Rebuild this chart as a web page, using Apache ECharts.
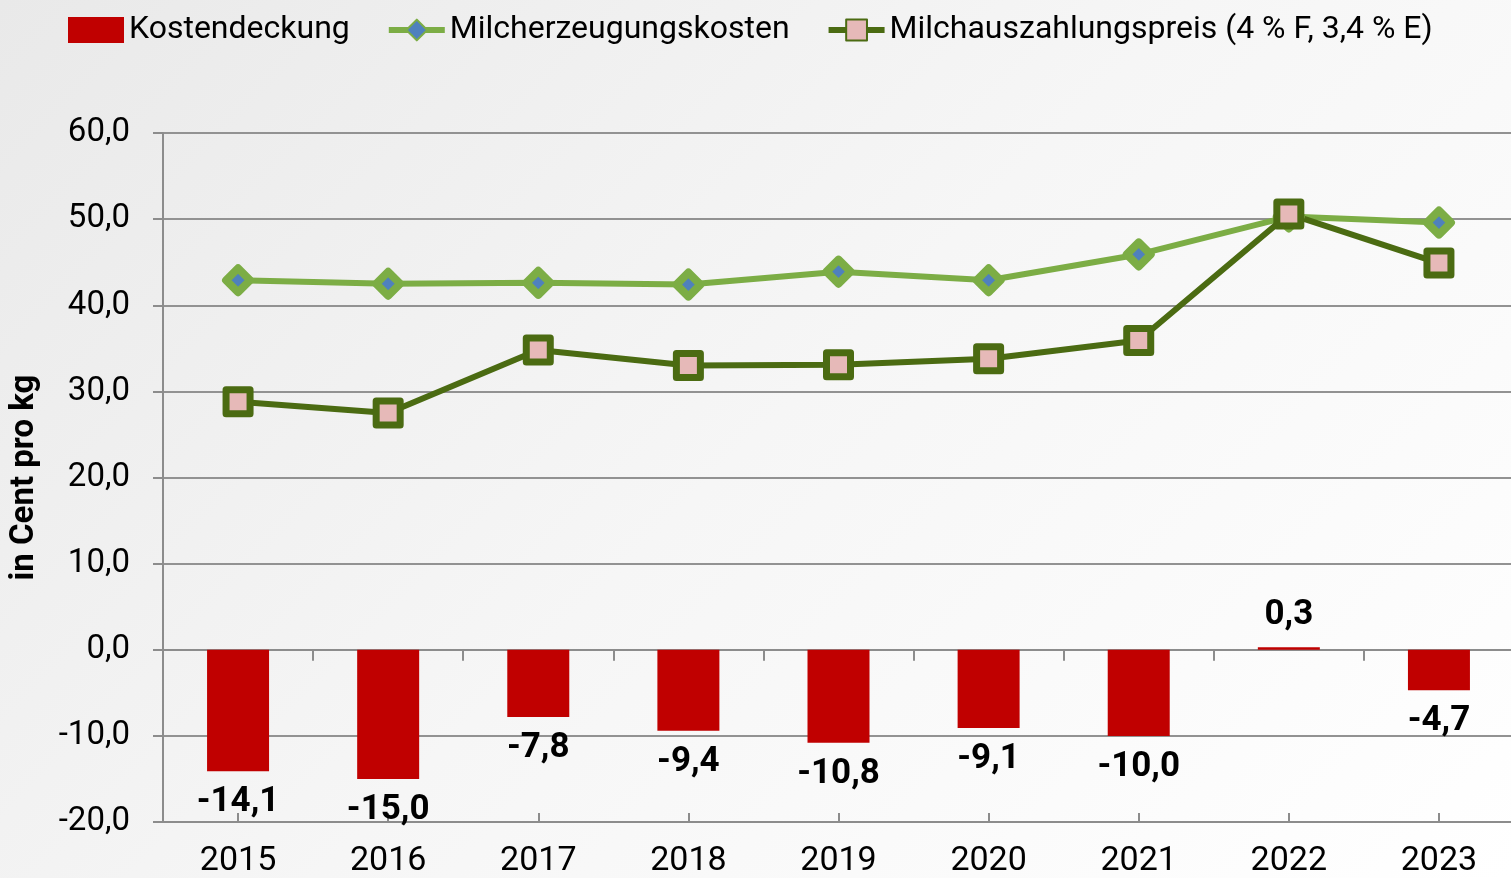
<!DOCTYPE html>
<html>
<head>
<meta charset="utf-8">
<script src="https://cdn.jsdelivr.net/npm/echarts@6/dist/echarts.min.js"></script>
<style>
  html, body { margin: 0; padding: 0; }
  body { background: linear-gradient(135deg, #e9e9e9 0%, #f6f6f6 50%, #ffffff 100%); }
  #chart { width: 1511px; height: 878px; }
</style>
</head>
<body>
<div id="chart"></div>
<script>
// data
var years = ['2015', '2016', '2017', '2018', '2019', '2020', '2021', '2022', '2023']
var kostendeckung = [-14.1, -15.0, -7.8, -9.4, -10.8, -9.1, -10.0, 0.3, -4.7]
var erzeugungskosten = [42.9, 42.5, 42.6, 42.4, 43.9, 42.9, 45.9, 50.3, 49.6]
var auszahlungspreis = [28.8, 27.5, 34.8, 33.0, 33.1, 33.8, 35.9, 50.6, 44.9]

var FONT = 'Roboto, "Noto Sans", sans-serif'
var fmt = function (v) { return v.toFixed(1).replace('.', ',') }

var chart = echarts.init(document.getElementById('chart'))

var barData = kostendeckung.map(function (v) {
  return { value: v, label: { position: v < 0 ? 'bottom' : 'top' } }
})

chart.setOption({
  backgroundColor: 'transparent',
  textStyle: { fontFamily: FONT },
  grid: { left: 163, right: -3, top: 133, bottom: 56, containLabel: false, outerBoundsMode: 'none' },
  legend: {
    left: 63,
    top: 9,
    width: 1500,
    itemWidth: 56,
    itemHeight: 26,
    itemGap: 36,
    textStyle: { fontSize: 32, color: '#000', fontFamily: FONT },
    data: [
      { name: 'Kostendeckung', icon: 'rect' },
      { name: 'Milcherzeugungskosten', lineStyle: { width: 6 } },
      { name: 'Milchauszahlungspreis (4 % F, 3,4 % E)', lineStyle: { width: 6 } }
    ]
  },
  xAxis: [
    {
      type: 'category',
      data: years,
      position: 'bottom',
      axisLine: { show: false, onZero: false },
      axisTick: { show: false },
      axisLabel: { fontSize: 34, color: '#000', margin: 22 }
    },
    {
      type: 'category',
      data: years,
      position: 'bottom',
      axisLine: { show: true, onZero: true, lineStyle: { color: '#8c8c8c', width: 2 } },
      axisTick: { show: true, length: 11, lineStyle: { color: '#8c8c8c', width: 2 } },
      axisLabel: { show: false }
    },
    {
      type: 'category',
      data: years,
      position: 'bottom',
      axisLine: { show: true, onZero: true, lineStyle: { color: '#8c8c8c', width: 2 } },
      axisTick: { show: true, alignWithLabel: true, inside: true, length: 9, lineStyle: { color: '#8c8c8c', width: 2 } },
      axisLabel: { show: false }
    }
  ],
  yAxis: {
    type: 'value',
    min: -20,
    max: 60,
    interval: 10,
    name: 'in Cent pro kg',
    nameLocation: 'middle',
    nameGap: 122,
    nameTextStyle: { fontSize: 33, fontWeight: 'bold', color: '#000' },
    axisLine: { show: true, lineStyle: { color: '#8c8c8c', width: 2 } },
    axisTick: { show: true, length: 10, lineStyle: { color: '#8c8c8c', width: 2 } },
    axisLabel: { fontSize: 33, color: '#000', margin: 33, formatter: fmt },
    splitLine: { lineStyle: { color: '#929292', width: 2 } }
  },
  series: [
    {
      name: 'Kostendeckung',
      type: 'bar',
      xAxisIndex: 0,
      barWidth: 62,
      data: barData,
      itemStyle: { color: '#c00000' },
      label: {
        show: true,
        distance: 14,
        fontSize: 35,
        fontWeight: 'bold',
        color: '#000',
        formatter: function (p) { return fmt(p.value) }
      }
    },
    {
      name: 'Milcherzeugungskosten',
      type: 'line',
      xAxisIndex: 0,
      data: erzeugungskosten,
      symbol: 'diamond',
      symbolSize: 24,
      lineStyle: { color: '#7cad45', width: 6 },
      itemStyle: { color: '#4f81bd', borderColor: '#7cad45', borderWidth: 8, borderJoin: 'round' }
    },
    {
      name: 'Milchauszahlungspreis (4 % F, 3,4 % E)',
      type: 'line',
      xAxisIndex: 0,
      data: auszahlungspreis,
      symbol: 'rect',
      symbolSize: 24,
      lineStyle: { color: '#4b6b12', width: 6 },
      itemStyle: { color: '#e6b9b8', borderColor: '#4b6b12', borderWidth: 7, borderJoin: 'round' }
    }
  ]
})
</script>
</body>
</html>
